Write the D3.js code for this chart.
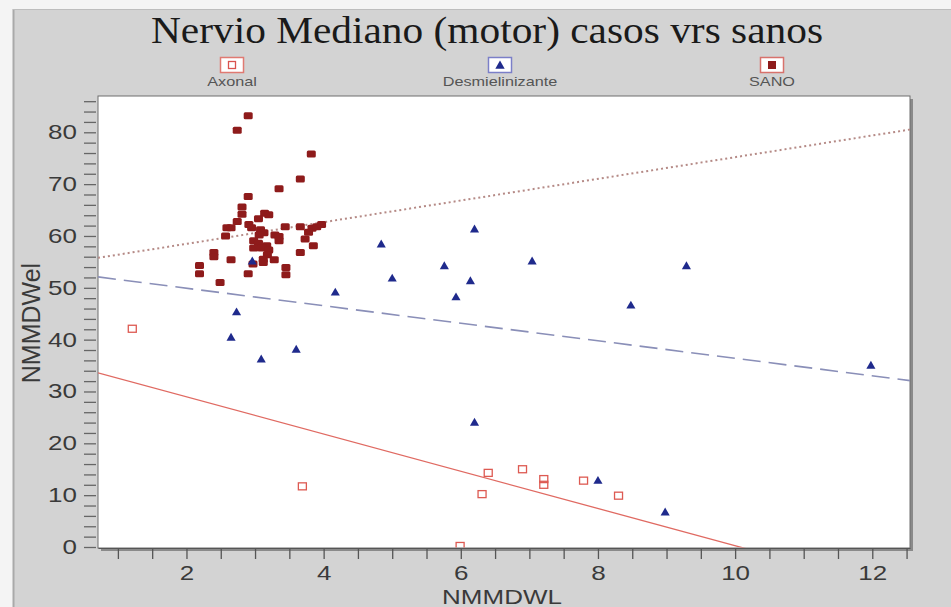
<!DOCTYPE html>
<html><head><meta charset="utf-8">
<script src="https://cdn.jsdelivr.net/npm/d3@7"></script>
<style>body{margin:0;background:#fff}svg{display:block}</style>
</head><body>
<svg id="c" width="951" height="607"></svg>
<script>
const chartTitle = "Nervio Mediano (motor) casos vrs sanos";
const xTitle = "NMMDWL";
const yTitle = "NMMDWel";
const seriesNames = ["Axonal", "Desmielinizante", "SANO"];

const axonalPoints = [
  [1.21,42.1],[3.69,11.7],[5.99,0.2],[6.31,10.2],[6.40,14.3],
  [6.90,15.0],[7.21,13.1],[7.21,12.0],[7.79,12.8],[8.30,9.9]
];
const desmielPoints = [
  [2.96,55.0],[2.73,45.2],[2.65,40.3],[3.09,36.1],[3.60,38.0],[4.17,49.0],
  [4.84,58.3],[5.00,51.7],[5.76,54.1],[5.93,48.1],[6.14,51.2],[6.20,61.2],
  [7.04,55.0],[8.48,46.5],[9.29,54.1],[11.98,34.9],[6.20,23.9],[8.00,12.7],[8.98,6.6]
];
const sanoPoints = [
  [2.90,83.2],[2.74,80.4],[3.82,75.8],[3.66,71.0],[3.35,69.1],[2.90,67.6],
  [2.81,65.6],[2.81,64.2],[3.14,64.4],[3.20,64.1],[2.74,62.8],[3.05,63.3],
  [2.59,61.6],[2.65,61.6],[2.91,62.2],[2.95,61.6],[3.08,61.2],[3.13,60.6],
  [3.44,61.8],[3.66,61.8],[3.83,61.5],[3.90,61.8],[3.97,62.2],[3.78,60.7],
  [2.57,60.0],[3.06,60.2],[3.29,60.2],[3.35,59.9],[3.35,59.1],[3.73,59.4],
  [2.98,59.1],[3.05,58.6],[3.17,58.1],[3.85,58.1],[2.98,57.7],[3.10,57.7],
  [3.20,57.3],[2.40,56.8],[2.40,56.0],[3.66,56.8],[3.18,56.4],[3.12,55.5],
  [2.65,55.4],[3.28,55.4],[3.12,54.9],[2.19,54.3],[3.45,53.9],[2.19,52.7],
  [2.90,52.7],[3.45,52.5],[2.49,51.0],[2.97,54.6]
];
// fitted lines (intercept, slope): Axonal, Desmielinizante, SANO
const fitIntercepts = [36.15, 53.3, 54.3];
const fitSlopes = [-3.59, -1.69, 2.09];

const xTickValues = d3.range(1, 12.51, 0.5);
const xTickLabels = [2, 4, 6, 8, 10, 12];
const yTickValues = d3.range(0, 87, 2);
const yTickLabels = [0, 10, 20, 30, 40, 50, 60, 70, 80];

const svg = d3.select("#c");
const L = 98, R = 910, T = 96, B = 547;
const x = d3.scaleLinear().domain([0.71, 12.55]).range([L, R]);
const y = d3.scaleLinear().domain([0, 87]).range([B, T]);
const SX = 1.3;

// background frame
svg.append("rect").attr("x",0).attr("y",0).attr("width",951).attr("height",607).attr("fill","#f4f4f4");
svg.append("rect").attr("x",13).attr("y",9).attr("width",938).attr("height",598).attr("fill","#d3d3d3");
svg.append("line").attr("x1",13.5).attr("x2",13.5).attr("y1",9).attr("y2",607).attr("stroke","#a9a9a9").attr("stroke-width",2);
svg.append("line").attr("x1",13).attr("x2",951).attr("y1",9.5).attr("y2",9.5).attr("stroke","#bdbdbd");

// title
svg.append("text").attr("x",487).attr("y",43).attr("text-anchor","middle")
  .attr("font-family","Liberation Serif, Times New Roman, serif").attr("font-size",37)
  .attr("fill","#1a1a1a").attr("textLength",672).attr("lengthAdjust","spacingAndGlyphs").text(chartTitle);

// legend
const legendX = [232, 500, 772];
const legendStroke = ["#e07a72", "#7b7fc8", "#d8726c"];
seriesNames.forEach((name, i) => {
  const g = svg.append("g").attr("transform", `translate(${legendX[i]},0)`);
  g.append("rect").attr("x",-11.5).attr("y",57.5).attr("width",23).attr("height",15)
    .attr("fill","#fff").attr("stroke",legendStroke[i]).attr("stroke-width",1.5);
  if (i === 0) g.append("rect").attr("x",-3.5).attr("y",61.5).attr("width",7).attr("height",7).attr("fill","none").attr("stroke","#d9534f").attr("stroke-width",1.3);
  if (i === 1) g.append("path").attr("d", d3.symbol(d3.symbolTriangle, 38)()).attr("transform","translate(0,66)").attr("fill","#1f2a8c");
  if (i === 2) g.append("rect").attr("x",-4).attr("y",61).attr("width",8).attr("height",8).attr("fill","#8e1b1b");
  g.append("text").attr("x",0).attr("y",86).attr("text-anchor","middle")
    .attr("font-family","Liberation Sans, Arial, sans-serif").attr("font-size",12.5)
    .attr("fill","#555").attr("transform",`scale(${SX},1)`).text(name);
});

// plot area with shadow
svg.append("rect").attr("x",L+3).attr("y",T+3).attr("width",R-L).attr("height",B-T+1).attr("fill","#8a8a8a");
svg.append("rect").attr("x",L).attr("y",T).attr("width",R-L).attr("height",B-T+1).attr("fill","#fff").attr("stroke","#6e6e6e").attr("stroke-width",1);

svg.append("clipPath").attr("id","clip").append("rect").attr("x",L).attr("y",T).attr("width",R-L).attr("height",B-T+0.5);
const plot = svg.append("g").attr("clip-path","url(#clip)");

const xd = x.domain();
const lineColors = ["#e06a62", "#8a8fb8", "#b58a86"];
const lineDash = [null, "18,8", "2,3"];
const lineWidths = [1.3, 1.6, 2];
fitIntercepts.forEach((a, i) => {
  const b = fitSlopes[i];
  const line = d3.line().x(d=>x(d)).y(d=>y(a+b*d));
  plot.append("path").attr("d", line(xd)).attr("fill","none").attr("stroke",lineColors[i])
    .attr("stroke-width",lineWidths[i]).attr("stroke-dasharray",lineDash[i]);
});

// points
plot.selectAll(".sano").data(sanoPoints).join("rect").attr("class","sano")
  .attr("x",d=>x(d[0])-4.5).attr("y",d=>y(d[1])-3.5).attr("width",9).attr("height",7).attr("rx",1.5)
  .attr("fill","#8e1b1b");
plot.selectAll(".des").data(desmielPoints).join("path").attr("class","des")
  .attr("d", d3.symbol(d3.symbolTriangle, 36)())
  .attr("transform",d=>`translate(${x(d[0])},${y(d[1])})`).attr("fill","#1f2a8c");
plot.selectAll(".axo").data(axonalPoints).join("rect").attr("class","axo")
  .attr("x",d=>x(d[0])-4).attr("y",d=>y(d[1])-3.5).attr("width",8).attr("height",7)
  .attr("fill","none").attr("stroke","#dd5a52").attr("stroke-width",1.3);

// axes
const xAxis = d3.axisBottom(x).tickValues(xTickValues).tickSize(11).tickSizeOuter(0)
  .tickFormat(d => xTickLabels.includes(d) ? d : "");
const gx = svg.append("g").attr("transform",`translate(0,${B+1})`).call(xAxis);
gx.select(".domain").attr("stroke","#555");
gx.selectAll(".tick line").attr("stroke","#555").attr("stroke-width",1.3);
gx.selectAll(".tick text").attr("font-family","Liberation Sans, Arial, sans-serif").attr("font-size",20)
  .attr("fill","#3a3a3a").attr("x",0).attr("y",18).attr("transform",`scale(${SX},1)`);

const yAxis = d3.axisLeft(y).tickValues(yTickValues).tickSize(12).tickSizeOuter(0)
  .tickFormat(d => yTickLabels.includes(d) ? d : "");
const gy = svg.append("g").attr("transform",`translate(${L-2},0)`).call(yAxis);
gy.select(".domain").attr("stroke","none");
gy.selectAll(".tick line").attr("stroke","#666").attr("stroke-width",1.3);
gy.selectAll(".tick text").attr("font-family","Liberation Sans, Arial, sans-serif").attr("font-size",20)
  .attr("fill","#3a3a3a").attr("x",-19/SX).attr("transform",`scale(${SX},1)`);

// axis titles
svg.append("text").attr("x",502/SX).attr("y",604).attr("text-anchor","middle").attr("transform",`scale(${SX},1)`)
  .attr("font-family","Liberation Sans, Arial, sans-serif").attr("font-size",20).attr("fill","#3a3a3a").text(xTitle);
svg.append("text").attr("transform","translate(40,323) rotate(-90)").attr("text-anchor","middle")
  .attr("font-family","Liberation Sans, Arial, sans-serif").attr("font-size",25).attr("fill","#3a3a3a").text(yTitle);
</script>
</body></html>
